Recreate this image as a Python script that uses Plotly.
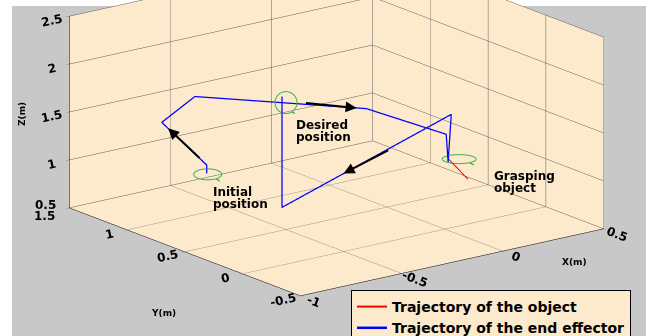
import numpy as np
import plotly.graph_objects as go

# ---------------- data ----------------
traj_x = [-0.68, -0.68, -0.756, -0.558, -0.121, 0.075, 0.085, 0.097, -0.409, -0.409]
traj_y = [0.87, 0.87, 1.126, 1.186, 0.467, 0.119, 0.12, 0.114, 0.693, 0.693]
traj_z = [1.0, 1.086, 1.45, 1.6, 1.6, 1.4, 1.105, 1.6, 0.6, 1.756]

obj_x = [0.010, 0.114]
obj_y = [-0.183, 0.165]
obj_z = [1.1, 1.1]

x_ticks = [-1, -0.5, 0, 0.5]
x_ticktext = ["-1", "-0.5", "0", "0.5"]
y_ticks = [-0.5, 0, 0.5, 1, 1.5]
y_ticktext = ["-0.5", "0", "0.5", "1", ""]   # "1.5" drawn at the shared corner below
z_ticks = [0.5, 1, 1.5, 2, 2.5]
z_ticktext = ["", "1", "1.5", "2", "2.5"]    # "0.5" drawn at the shared corner below
corner_labels = ["0.5", "1.5"]               # z = 0.5 and y = 1.5 at the same corner

# arrows: (segment start index, fraction along segment, tail offset px)
arrow_seg = [1, 3, 7]
arrow_frac = [0.86, 0.943, 0.636]
arrow_ax = [33, -52, 46]
arrow_ay = [31, -5, -24]

# labels anchored to trajectory points
label_idx = [0, 9, 6]
label_lines = [["Initial", "position"], ["Desired", "position"], ["Grasping", "object"]]

# ---------------- style / view ----------------
W, H = 646, 336
PEACH = "#fde9cb"
GRAY = "#c8c8c8"
BLUE = "#0000ff"
RED = "#ff0000"
GREEN = "#3cb44b"

X_RANGE = [-1, 0.5]
Y_RANGE = [-0.5, 1.5]
Z_RANGE = [0.5, 2.5]
ZOOM = 2.27
aspect = ZOOM * np.array([1.0, 1.0, 0.525])

# look-at point (data units) and view direction
look_at = np.array([-0.292, 0.543, 1.025])
mids = np.array([sum(X_RANGE) / 2, sum(Y_RANGE) / 2, sum(Z_RANGE) / 2])
spans = np.array([X_RANGE[1] - X_RANGE[0], Y_RANGE[1] - Y_RANGE[0], Z_RANGE[1] - Z_RANGE[0]])
cam_center = (look_at - mids) / spans * aspect
cam_dir = np.array([-0.58, -0.761, 0.29])
cam_dir = cam_dir / np.linalg.norm(cam_dir)
eye = cam_center + 4.0 * cam_dir

# screen px per data unit along axes (right, down) for callout offsets
px_right = np.array([0.003114, -0.003185, 0.0])
px_down = np.array([0.0, 0.0, -1 / 96.0])


def callout(anchor, cx, cy, rx, ry, tail_ang, tip):
    th = np.linspace(0, 2 * np.pi, 73)
    pts = []
    for t in th:
        pts.append((cx + rx * np.cos(t), cy + ry * np.sin(t)))
        if abs(t - tail_ang) < 1e-9:
            pts.append((cx + tip[0], cy + tip[1]))
    a = np.array(anchor, dtype=float)
    xs, ys, zs = [], [], []
    for (u, v) in pts:
        p = a + u * px_right + v * px_down
        xs.append(p[0]); ys.append(p[1]); zs.append(p[2])
    return xs, ys, zs


fig = go.Figure()
fig.add_trace(go.Scatter3d(x=obj_x, y=obj_y, z=obj_z, mode="lines",
                           line=dict(color=RED, width=2),
                           name="Trajectory of the object", hoverinfo="skip"))
fig.add_trace(go.Scatter3d(x=traj_x, y=traj_y, z=traj_z, mode="lines",
                           line=dict(color=BLUE, width=2.5),
                           name="Trajectory of the end effector", hoverinfo="skip"))

# green callouts (screen-space offsets relative to trajectory points)
callouts = [
    (0, 1, 1, 14, 5.5, np.deg2rad(50), (12, 7)),
    (9, 4, 6, 11, 11, np.deg2rad(55), (9, 11)),
    (6, 11, -3, 17, 4.5, np.deg2rad(50), (15, 6)),
]
for idx, cx, cy, rx, ry, ta, tip in callouts:
    th = np.linspace(0, 2 * np.pi, 73)
    ta = th[np.argmin(np.abs(th - ta))]
    xs, ys, zs = callout((traj_x[idx], traj_y[idx], traj_z[idx]), cx, cy, rx, ry, ta, tip)
    fig.add_trace(go.Scatter3d(x=xs, y=ys, z=zs, mode="lines",
                               line=dict(color=GREEN, width=2),
                               showlegend=False, hoverinfo="skip"))

# annotations in the scene
ann = []
for s, f, ax, ay in zip(arrow_seg, arrow_frac, arrow_ax, arrow_ay):
    hx = traj_x[s] + f * (traj_x[s + 1] - traj_x[s])
    hy = traj_y[s] + f * (traj_y[s + 1] - traj_y[s])
    hz = traj_z[s] + f * (traj_z[s + 1] - traj_z[s])
    ann.append(dict(x=hx, y=hy, z=hz, text="", showarrow=True, arrowhead=2,
                    arrowsize=1.1, arrowwidth=2, arrowcolor="black", ax=ax, ay=ay))

label_shift = [(4, -10), (12, -19), (44, -5)]
for i, lines, (sx, sy) in zip(label_idx, label_lines, label_shift):
    for k, t in enumerate(lines):
        ann.append(dict(x=traj_x[i], y=traj_y[i], z=traj_z[i], text=t, showarrow=False,
                        xanchor="left", yanchor="top", xshift=sx, yshift=sy - 12 * k,
                        font=dict(family="DejaVu Sans", size=12, color="black", weight="bold")))

# stacked corner tick labels (z "0.5" above y "1.5"), as in the reference
for t, (sx, sy) in zip(corner_labels, [(-11, 3), (-12, -8)]):
    ann.append(dict(x=X_RANGE[0], y=Y_RANGE[1], z=Z_RANGE[0], text=t, showarrow=False,
                    xanchor="right", yanchor="middle", xshift=sx, yshift=sy,
                    font=dict(family="DejaVu Sans", size=12, color="black", weight="bold")))

# axis titles (paper annotations)
title_font = dict(size=9, family="DejaVu Sans", color="black", weight="bold")
paper_ann = [
    dict(text="Z(m)", x=22 / W, y=1 - 114 / H, textangle=-90),
    dict(text="Y(m)", x=163 / W, y=1 - 313 / H, textangle=0),
    dict(text="X(m)", x=574 / W, y=1 - 262 / H, textangle=0),
]
paper_ann = [dict(a, xref="paper", yref="paper", showarrow=False, xanchor="center",
                  yanchor="middle", font=title_font) for a in paper_ann]

axis_common = dict(showbackground=True, backgroundcolor=PEACH, gridcolor="#5c5c5c",
                   gridwidth=1, showline=True, linecolor="black", linewidth=1,
                   zeroline=False, showspikes=False, ticks="outside", tickcolor="#888",
                   ticklen=4, title=dict(text=""),
                   tickfont=dict(family="DejaVu Sans", size=12, color="black", weight="bold"))

fig.update_layout(
    width=W, height=H,
    margin=dict(l=0, r=0, t=0, b=0, autoexpand=False),
    paper_bgcolor="white",
    shapes=[dict(type="rect", xref="paper", yref="paper", x0=12 / W, x1=1, y0=0, y1=1 - 6 / H,
                 fillcolor=GRAY, line=dict(width=0), layer="below")],
    scene=dict(
        domain=dict(x=[0, 1], y=[0, 1]),
        aspectmode="manual", aspectratio=dict(x=aspect[0], y=aspect[1], z=aspect[2]),
        xaxis=dict(axis_common, range=X_RANGE, tickvals=x_ticks, ticktext=x_ticktext),
        yaxis=dict(axis_common, range=Y_RANGE, tickvals=y_ticks, ticktext=y_ticktext),
        zaxis=dict(axis_common, range=Z_RANGE, tickvals=z_ticks, ticktext=z_ticktext),
        camera=dict(projection=dict(type="orthographic"),
                    eye=dict(x=eye[0], y=eye[1], z=eye[2]),
                    center=dict(x=cam_center[0], y=cam_center[1], z=cam_center[2]),
                    up=dict(x=0, y=0, z=1)),
        annotations=ann,
    ),
    annotations=paper_ann,
    legend=dict(x=351 / W, y=1 - 290 / H, xanchor="left", yanchor="top",
                bgcolor=PEACH, bordercolor="black", borderwidth=1,
                font=dict(family="DejaVu Sans", size=14, color="black", weight="bold"),
                tracegroupgap=0, itemwidth=30),
    hovermode=False,
)

fig.write_html("out.html", config={"displayModeBar": False},
               post_script="document.body.style.margin='0';document.body.style.overflow='hidden';")
